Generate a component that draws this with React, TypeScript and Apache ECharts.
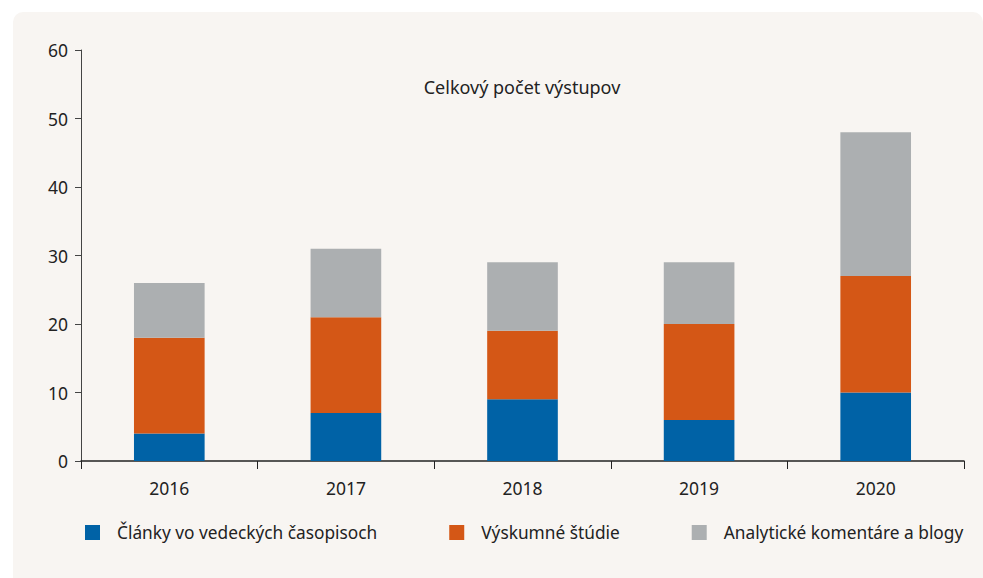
import React, { useEffect, useRef } from "react";
import * as echarts from "echarts";

const years = ["2016", "2017", "2018", "2019", "2020"];
const seriesNames = ["Články vo vedeckých časopisoch", "Výskumné štúdie", "Analytické komentáre a blogy"];
const clanky = [4, 7, 9, 6, 10];
const studie = [14, 14, 10, 14, 17];
const komentare = [8, 10, 10, 9, 21];
const yTicks = [0, 10, 20, 30, 40, 50, 60];
const titleText = "Celkový počet výstupov";

const colors = ["#0062a6", "#d45716", "#acafb1"];
const FONT = "Noto Sans";

export default function App() {
  const ref = useRef<HTMLDivElement>(null);
  useEffect(() => {
    if (!ref.current) return;
    const chart = echarts.init(ref.current, undefined, { renderer: "svg" });
    const data = [clanky, studie, komentare];
    chart.setOption({
      animation: false,
      textStyle: { fontFamily: FONT, color: "#222" },
      graphic: [
        {
          type: "rect",
          z: -10,
          silent: true,
          shape: { x: 13, y: 12, width: 970, height: 590, r: 10 },
          style: { fill: "#f8f5f2" },
        },
      ],
      title: {
        text: titleText,
        left: 517,
        top: 73,
        textAlign: "center",
        textStyle: { fontFamily: FONT, fontSize: 18, fontWeight: "normal", color: "#222" },
      },
      legend: {
        left: 80,
        top: 519,
        itemWidth: 15,
        itemHeight: 15,
        itemGap: 72,
        icon: "rect",
        textStyle: { fontFamily: FONT, fontSize: 17.3, color: "#222", padding: [0, 0, 0, 12] },
        data: seriesNames,
      },
      grid: { left: 81, right: 19, top: 50, bottom: 117 },
      xAxis: {
        type: "category",
        data: years,
        axisLine: { lineStyle: { color: "#222", width: 1.5 } },
        axisTick: { show: true, length: 8, lineStyle: { color: "#222" } },
        axisLabel: { fontFamily: FONT, fontSize: 17.5, color: "#222", margin: 18 },
      },
      yAxis: {
        type: "value",
        min: yTicks[0],
        max: yTicks[yTicks.length - 1],
        interval: 10,
        axisLine: { show: true, lineStyle: { color: "#444", width: 1 } },
        axisTick: { show: true, length: 6, lineStyle: { color: "#444" } },
        splitLine: { show: false },
        axisLabel: { fontFamily: FONT, fontSize: 17.5, color: "#222", margin: 13 },
      },
      series: seriesNames.map((name, i) => ({
        name,
        type: "bar",
        stack: "total",
        barWidth: "40%",
        data: data[i],
        itemStyle: { color: colors[i] },
      })),
    });
    return () => chart.dispose();
  }, []);
  return (
    <div
      ref={ref}
      style={{ position: "fixed", left: 0, top: 0, width: 983, height: 578, background: "#fff" }}
    />
  );
}
